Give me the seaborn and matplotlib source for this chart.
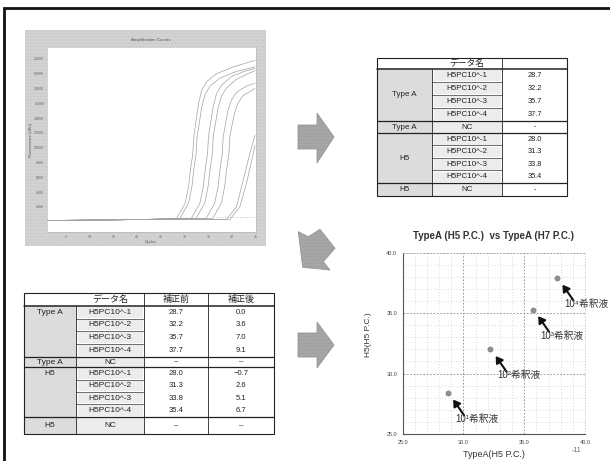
import matplotlib
matplotlib.use("Agg")
import matplotlib.pyplot as plt
from matplotlib.patches import Rectangle, Polygon
import seaborn as sns

# ---- data ----
# amplification curves: cycle / fluorescence pairs for each well
curve_cycles = [
    [1, 12, 22, 28.3, 30.1, 30.8, 31.2, 31.7, 31.9, 32.4, 32.9, 33.6, 34.6, 36.7, 40.2, 44.8],
    [1, 12, 22, 29.0, 30.8, 31.5, 31.9, 32.4, 32.6, 33.1, 33.6, 34.3, 35.3, 37.4, 40.9, 44.8],
    [1, 12, 22, 31.4, 33.2, 33.9, 34.3, 34.8, 35.0, 35.5, 36.0, 36.7, 37.7, 39.8, 42.5, 44.8],
    [1, 12, 22, 32.4, 34.2, 34.9, 35.3, 35.8, 36.0, 36.5, 37.0, 37.7, 38.7, 40.8, 43.0, 44.8],
    [1, 12, 22, 34.5, 36.3, 37.0, 37.4, 37.9, 38.1, 38.6, 39.1, 39.8, 40.8, 42.9, 44.8],
    [1, 12, 22, 35.9, 37.7, 38.4, 38.8, 39.3, 39.5, 40.0, 40.5, 41.2, 42.2, 44.8],
    [1, 12, 22, 38.8, 40.9, 42.3, 43.7, 44.8],
    [1, 12, 22, 39.5, 41.6, 43.0, 44.1, 44.8],
]
curve_values = [
    [150, 220, 300, 450, 2500, 4700, 7000, 9200, 11500, 13700, 16000, 17800, 18900, 20000, 20900, 21800],
    [150, 220, 300, 450, 2500, 4700, 7000, 9200, 11500, 13500, 15600, 17200, 18300, 19400, 20300, 20900],
    [150, 220, 300, 450, 2500, 4700, 7000, 9200, 11500, 13600, 15600, 17300, 18400, 19600, 20300, 20700],
    [150, 220, 300, 450, 2500, 4700, 7000, 9200, 11500, 13400, 15300, 16900, 18000, 19200, 19900, 20400],
    [150, 220, 300, 450, 2500, 4700, 7000, 9200, 11500, 13300, 15000, 16400, 17400, 18300, 18700],
    [150, 220, 300, 450, 2500, 4700, 7000, 9200, 11500, 13200, 14700, 16000, 17000, 18000],
    [150, 220, 300, 300, 2000, 5600, 9200, 11700],
    [150, 220, 300, 300, 2000, 5200, 8300, 10300],
]
threshold_cycles = [36.7, 44.8]
threshold_values = [670, 670]

sample_names = ["H5PC10^-1", "H5PC10^-2", "H5PC10^-3", "H5PC10^-4"]
group_names = ["Type A", "H5"]
typeA_ct = [28.7, 32.2, 35.7, 37.7]
h5_ct = [28.0, 31.3, 33.8, 35.4]
typeA_corrected = [0.0, 3.6, 7.0, 9.1]
h5_corrected = [-0.7, 2.6, 5.1, 6.7]

scatter_x = [28.7, 32.2, 35.7, 37.7]
scatter_y = [28.4, 32.0, 35.3, 37.9]
dilution_labels = ["10\u00b9希釈液", "10\u00b2希釈液", "10\u00b3希釈液", "10\u2074希釈液"]

W, H = 610, 461
STIPPLE = "#dcdcdc"
STIPPLE_LIGHT = "#ececec"

sns.set_style("white")
plt.rcParams["font.family"] = ["Liberation Sans", "Noto Sans CJK JP", "DejaVu Sans"]
plt.rcParams["hatch.linewidth"] = 0.4


def px_rect(left, top, right, bottom):
    return [left / W, 1 - bottom / H, (right - left) / W, (bottom - top) / H]


def fmt(v):
    return f"{v:.1f}".replace("-", "\u2212")


def draw_table(ax, cols, rows, headers, value_cols, nc_mark, fs, label_top):
    x0, x1 = cols[0], cols[-1]
    y0, y1 = rows[0], rows[-1]
    for g, name in enumerate(group_names):
        s = 1 + g * 5
        # stippled label column
        ax.add_patch(Rectangle((cols[0], rows[s]), cols[1] - cols[0], rows[s + 4] - rows[s],
                               facecolor=STIPPLE, edgecolor="none"))
        ax.add_patch(Rectangle((cols[0], rows[s + 4]), cols[1] - cols[0], rows[s + 5] - rows[s + 4],
                               facecolor=STIPPLE, edgecolor="none"))
        ax.add_patch(Rectangle((cols[1], rows[s + 4]), cols[2] - cols[1], rows[s + 5] - rows[s + 4],
                               facecolor=STIPPLE_LIGHT, edgecolor="none"))
        ly = (rows[s] + rows[s + 1]) / 2 if label_top else (rows[s] + rows[s + 4]) / 2
        ax.text((cols[0] + cols[1]) / 2, ly, name, ha="center", va="center", fontsize=fs, color="#222")
        ax.text((cols[0] + cols[1]) / 2, (rows[s + 4] + rows[s + 5]) / 2, name,
                ha="center", va="center", fontsize=fs, color="#222")
        for i, sample in enumerate(sample_names):
            ta, tb = rows[s + i], rows[s + i + 1]
            ax.add_patch(Rectangle((cols[1] + 1.5, ta + 1), cols[2] - cols[1] - 3, tb - ta - 2,
                                   facecolor=STIPPLE_LIGHT, edgecolor="none"))
            ax.text((cols[1] + cols[2]) / 2, (ta + tb) / 2, sample, ha="center", va="center",
                    fontsize=fs, color="#222")
            if i > 0:
                ax.plot([cols[1], cols[2]], [ta, ta], color="#333", lw=0.5)
            for c, vals in enumerate(value_cols):
                ax.text((cols[2 + c] + cols[3 + c]) / 2, (ta + tb) / 2, fmt(vals[g][i]),
                        ha="center", va="center", fontsize=fs - 0.5, color="#222")
        ax.text((cols[1] + cols[2]) / 2, (rows[s + 4] + rows[s + 5]) / 2, "NC",
                ha="center", va="center", fontsize=fs, color="#222")
        for c in range(len(value_cols)):
            ax.text((cols[2 + c] + cols[3 + c]) / 2, (rows[s + 4] + rows[s + 5]) / 2, nc_mark,
                    ha="center", va="center", fontsize=fs - 0.5, color="#222")
    for c, h in enumerate(headers):
        ax.text((cols[1 + c] + cols[2 + c]) / 2, (rows[0] + rows[1]) / 2, h,
                ha="center", va="center", fontsize=fs + 0.5, color="#222")
    # grid lines
    ax.add_patch(Rectangle((x0, y0), x1 - x0, y1 - y0, fill=False, edgecolor="#222", lw=0.8))
    for r, lw in [(rows[1], 1.1), (rows[5], 0.9), (rows[6], 0.9), (rows[10], 0.9)]:
        ax.plot([x0, x1], [r, r], color="#222", lw=lw)
    ax.plot([cols[1], cols[1]], [rows[1], y1], color="#222", lw=0.6)
    for c in cols[2:-1]:
        ax.plot([c, c], [y0, y1], color="#222", lw=0.6)


def block_arrow(ax, pts):
    ax.add_patch(Polygon(pts, closed=True, facecolor="#a6a6a6", edgecolor="#979797",
                         lw=0.6, hatch="....."))


fig = plt.figure(figsize=(W / 100, H / 100), dpi=100)
ov = fig.add_axes([0, 0, 1, 1], zorder=0)
ov.set_xlim(0, W)
ov.set_ylim(H, 0)
ov.axis("off")

# page frame (left and top edges only)
ov.plot([4, 4, W], [H, 8, 8], color="#111", lw=2.0, solid_joinstyle="miter")

# ---- amplification plot ----
ov.add_patch(Rectangle((25, 30), 240, 215, facecolor="#d2d2d2", edgecolor="#c4c4c4",
                       lw=0.5, hatch="....."))
ov.text(151, 39.5, "Amplification Curves", ha="center", va="center", fontsize=3.2, color="#555")
ov.text(31, 140, "Fluorescence (dRn)", ha="center", va="center", rotation=90,
        fontsize=2.8, color="#555")
ov.text(151, 241.5, "Cycles", ha="center", va="center", fontsize=2.8, color="#555")

amp = fig.add_axes(px_rect(47, 47, 256, 232), zorder=1)
for cyc, val in zip(curve_cycles, curve_values):
    sns.lineplot(x=cyc, y=val, ax=amp, color="#a2a2a2", lw=0.5, estimator=None, sort=False)
sns.lineplot(x=threshold_cycles, y=threshold_values, ax=amp, color="#a8a8a8", lw=0.6,
             linestyle=(0, (1, 2)), estimator=None)
amp.set_xlim(1, 45)
amp.set_ylim(-1400, 23600)
amp.set_xticks(range(5, 46, 5))
amp.set_yticks(range(2000, 22001, 2000))
amp.tick_params(labelsize=2.5, labelcolor="#666", length=1, width=0.3, color="#888", pad=1)
for sp in amp.spines.values():
    sp.set_color("#b0b0b0")
    sp.set_linewidth(0.4)

# ---- tables ----
t1_cols = [377, 432, 502, 567]
t1_rows = [58, 69, 82, 95, 108, 121, 133, 145.5, 158, 170.5, 183, 196]
draw_table(ov, t1_cols, t1_rows, ["データ名", ""],
           [[typeA_ct, h5_ct]], "-", 5.8, label_top=False)

t2_cols = [24, 76, 144, 208, 274]
t2_rows = [293, 305.7, 318.5, 331.2, 344, 356.7, 367.3, 379.6, 392, 404.3, 416.7, 434]
draw_table(ov, t2_cols, t2_rows, ["データ名", "補正前", "補正後"],
           [[typeA_ct, h5_ct], [typeA_corrected, h5_corrected]], "\u2013", 6.0, label_top=True)

# ---- arrows between panels ----
block_arrow(ov, [(298, 125), (317, 125), (317, 113), (334, 137), (317, 163), (317, 149), (298, 149)])
block_arrow(ov, [(298.3, 231.7), (308.3, 236.7), (320, 229.3), (335, 248.3), (323.3, 261.7),
                 (330, 270), (302.7, 267.3)])
block_arrow(ov, [(298, 333), (317, 333), (317, 322), (334, 345), (317, 368), (317, 357), (298, 357)])

# ---- scatter: TypeA (H5 P.C.) vs TypeA (H7 P.C.) ----
sc = fig.add_axes(px_rect(402.7, 252.7, 585, 434), zorder=1)
sc.set_facecolor("white")
sns.scatterplot(x=scatter_x, y=scatter_y, ax=sc, color="#8f8f8f", edgecolor="#7a7a7a",
                s=14, linewidth=0.4, zorder=3)
sc.set_xlim(25, 40)
sc.set_ylim(25, 40)
ticks = [25, 30, 35, 40]
sc.set_xticks(ticks)
sc.set_yticks(ticks)
sc.set_xticklabels([f"{t:.1f}" for t in ticks])
sc.set_yticklabels([f"{t:.1f}" for t in ticks])
sc.set_xticks(range(26, 40), minor=True)
sc.set_yticks(range(26, 40), minor=True)
sc.tick_params(which="both", length=0, labelsize=4, labelcolor="#444", pad=4)
sc.grid(which="major", color="#8a8a8a", lw=0.6, linestyle=(0, (2, 2)))
sc.grid(which="minor", color="#bdbdbd", lw=0.5, linestyle=(0, (1, 3)))
for name, sp in sc.spines.items():
    if name in ("left", "bottom"):
        sp.set_color("#555")
        sp.set_linewidth(0.8)
        sp.set_linestyle((0, (2, 1)))
    else:
        sp.set_color("#bbbbbb")
        sp.set_linewidth(0.5)
        sp.set_linestyle((0, (1, 3)))
sc.set_title("TypeA (H5 P.C.)  vs TypeA (H7 P.C.)", fontsize=7, fontweight="bold",
             color="#333", pad=10)
sc.set_xlabel("TypeA(H5 P.C.)", fontsize=6.5, color="#333", labelpad=4)
sc.set_ylabel("H5(H5 P.C.)", fontsize=6, color="#333")
sc.yaxis.set_label_coords(-0.17, 0.55)

tip_off, tail_off, text_off = (0.45, -0.55), (1.35, -1.85), (2.4, -2.15)
for x, y, lab in zip(scatter_x, scatter_y, dilution_labels):
    sc.annotate("", xy=(x + tip_off[0], y + tip_off[1]),
                xytext=(x + tail_off[0], y + tail_off[1]),
                arrowprops=dict(arrowstyle="-|>,head_length=0.55,head_width=0.35", color="#111",
                                lw=1.5, shrinkA=0, shrinkB=0, mutation_scale=7),
                annotation_clip=False)
    sc.text(x + text_off[0], y + text_off[1], lab, ha="center", va="center", fontsize=7,
            color="#333", clip_on=False, zorder=4)

ov.text(577, 450, "-11", ha="center", va="center", fontsize=5, color="#666")

fig.savefig("out.png", dpi=100)
